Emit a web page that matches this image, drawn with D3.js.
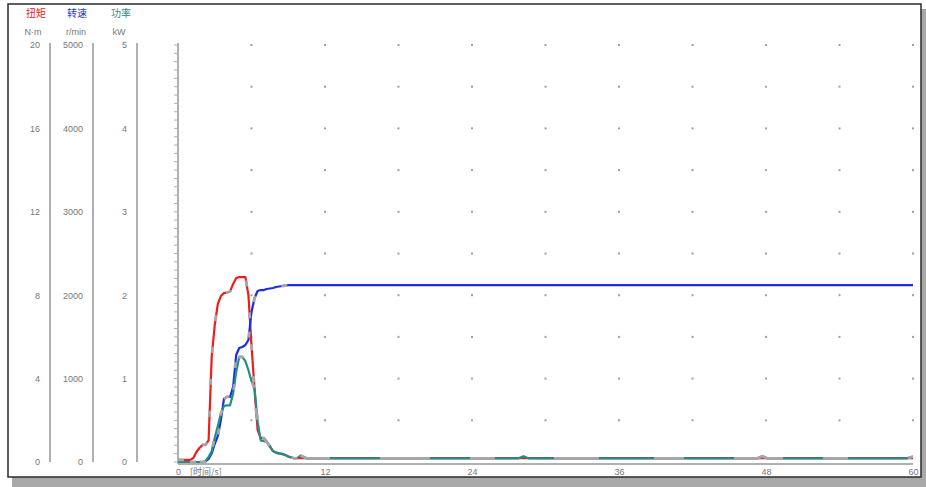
<!DOCTYPE html>
<html>
<head>
<meta charset="utf-8">
<script src="https://cdn.jsdelivr.net/npm/d3@7"></script>
<style>
  html, body { margin: 0; padding: 0; background: #fff; }
  svg { display: block; }
  text { font-family: "Liberation Sans", "DejaVu Sans", sans-serif; }
  .cjk { font-family: "Noto Sans CJK SC", sans-serif; }
</style>
</head>
<body>
<script>
// Sample times (s)
const times = [
  0, 0.25, 0.5, 0.75, 1, 1.25, 1.5, 1.75, 2, 2.25, 2.5, 2.75, 3, 3.25, 3.5, 3.75,
  4, 4.25, 4.5, 4.75, 5, 5.25, 5.5, 5.75, 6, 6.25, 6.5, 6.75, 7, 7.25, 7.5, 7.75,
  8, 8.25, 8.5, 8.75, 9, 9.25, 9.5, 9.75, 10, 10.5, 12, 18, 24, 27.8, 28.2, 28.6,
  36, 42, 47.3, 47.7, 48.1, 54, 59.5, 60
];
// Torque (N·m)
const torque = [
  0.10, 0.10, 0.10, 0.10, 0.10, 0.19, 0.48, 0.67, 0.82, 0.82, 1.05, 5.04, 6.57, 7.58, 7.96, 8.10,
  8.13, 8.18, 8.54, 8.82, 8.87, 8.87, 8.87, 8.00, 5.60, 3.45, 1.53, 1.15, 1.15, 0.97, 0.74, 0.53,
  0.46, 0.42, 0.38, 0.34, 0.26, 0.22, 0.18, 0.19, 0.20, 0.19, 0.19, 0.19, 0.19, 0.19, 0.19, 0.19,
  0.19, 0.19, 0.19, 0.19, 0.19, 0.19, 0.19, 0.19
];
// Speed (r/min)
const speed = [
  0, 0, 0, 0, 0, 0, 0, 0, 0, 6, 36, 104, 216, 312, 504, 755,
  780, 780, 900, 1283, 1367, 1379, 1403, 1463, 1799, 1966, 2050, 2062, 2062, 2074, 2080, 2086,
  2098, 2104, 2110, 2116, 2120, 2120, 2120, 2120, 2120, 2120, 2120, 2120, 2120, 2120, 2120, 2120,
  2120, 2120, 2120, 2120, 2120, 2120, 2120, 2120
];
// Power (kW)
const power = [
  0, 0, 0, 0, 0, 0, 0, 0, 0, 0.012, 0.06, 0.13, 0.29, 0.43, 0.58, 0.67,
  0.68, 0.68, 0.82, 1.08, 1.26, 1.26, 1.21, 1.10, 0.97, 0.88, 0.48, 0.26, 0.25, 0.24, 0.19, 0.13,
  0.11, 0.10, 0.10, 0.084, 0.066, 0.054, 0.044, 0.048, 0.078, 0.044, 0.044, 0.044, 0.044, 0.044, 0.07, 0.044,
  0.044, 0.044, 0.044, 0.07, 0.044, 0.044, 0.044, 0.065
];

const timeTicks = [0, 12, 24, 36, 48, 60];
const torqueTicks = [0, 4, 8, 12, 16, 20];
const speedTicks = [0, 1000, 2000, 3000, 4000, 5000];
const powerTicks = [0, 1, 2, 3, 4, 5];

const W = 926, H = 487;
const plot = { left: 178, right: 913, top: 45, bottom: 462 };

const svg = d3.select("body").append("svg").attr("width", W).attr("height", H);

// Outer frame with drop shadow
svg.append("rect").attr("x", 12).attr("y", 9).attr("width", 914).attr("height", 478).attr("fill", "#a8a8a8");
svg.append("rect").attr("x", 8).attr("y", 4).attr("width", 913).attr("height", 473)
  .attr("fill", "#fff").attr("stroke", "#2a2a2a").attr("stroke-width", 1.5);

const x = d3.scaleLinear().domain([0, 60]).range([plot.left, plot.right]);
const yT = d3.scaleLinear().domain([0, 20]).range([plot.bottom, plot.top]);
const yS = d3.scaleLinear().domain([0, 5000]).range([plot.bottom, plot.top]);
const yP = d3.scaleLinear().domain([0, 5]).range([plot.bottom, plot.top]);

// Dot grid
const gridX = d3.range(1, 11).map(i => i * 6);
const gridY = d3.range(0, 10).map(i => 20 - i * 2);
const grid = svg.append("g");
gridX.forEach(gx => gridY.forEach(gy => {
  grid.append("rect").attr("x", x(gx) - 1).attr("y", yT(gy) - 1)
    .attr("width", 2).attr("height", 2).attr("fill", "#a0a0a0");
}));

// Left value columns: header, unit, scale
const cols = [
  { name: "扭矩", unit: "N·m", color: "#e8201c", scale: yT, ticks: torqueTicks, labelX: 36, unitX: 33, lineX: 50 },
  { name: "转速", unit: "r/min", color: "#2233dd", scale: yS, ticks: speedTicks, labelX: 77, unitX: 76, lineX: 93 },
  { name: "功率", unit: "kW", color: "#3a8a88", scale: yP, ticks: powerTicks, labelX: 121, unitX: 119, lineX: 137 }
];
cols.forEach(c => {
  svg.append("text").attr("class", "cjk").attr("x", c.labelX).attr("y", 17)
    .attr("text-anchor", "middle").attr("font-size", 10).attr("fill", c.color).text(c.name);
  svg.append("text").attr("x", c.unitX).attr("y", 35)
    .attr("text-anchor", "middle").attr("font-size", 9).attr("fill", "#777").text(c.unit);
  svg.append("line").attr("x1", c.lineX).attr("x2", c.lineX).attr("y1", 43).attr("y2", plot.bottom)
    .attr("stroke", "#b0b0b0").attr("stroke-width", 2);
  const ax = d3.axisLeft(c.scale).tickValues(c.ticks).tickFormat(d3.format("d")).tickSize(0).tickPadding(0);
  const g = svg.append("g").attr("transform", `translate(${c.lineX - 10},0)`).call(ax);
  g.select(".domain").remove();
  g.selectAll("text").attr("font-size", 9).attr("fill", "#777")
    .attr("font-family", "Liberation Sans, sans-serif");
});

// Plot axes
svg.append("line").attr("x1", plot.left).attr("x2", plot.left).attr("y1", 43).attr("y2", plot.bottom + 2)
  .attr("stroke", "#b0b0b0").attr("stroke-width", 2);
const minor = d3.range(0, 51).map(i => i * 0.4);
svg.append("g").selectAll("line").data(minor).join("line")
  .attr("x1", plot.left - 4).attr("x2", plot.left).attr("y1", d => yT(d)).attr("y2", d => yT(d))
  .attr("stroke", "#b0b0b0").attr("stroke-width", 1);
svg.append("line").attr("x1", plot.left).attr("x2", plot.right).attr("y1", plot.bottom + 2).attr("y2", plot.bottom + 2)
  .attr("stroke", "#b0b0b0").attr("stroke-width", 2);

const xAxis = d3.axisBottom(x).tickValues(timeTicks).tickFormat(d3.format("d")).tickSize(0).tickPadding(0);
const gx = svg.append("g").attr("transform", `translate(0,${plot.bottom + 5})`).call(xAxis);
gx.select(".domain").remove();
gx.selectAll("text").attr("font-size", 9).attr("fill", "#777").attr("dy", "0.9em");
svg.append("text").attr("class", "cjk").attr("x", 190).attr("y", 475).attr("font-size", 9)
  .attr("fill", "#777").text("[时间/s]");

// Series
const series = [
  { vals: torque, scale: yT, color: "#ee1c1c" },
  { vals: speed, scale: yS, color: "#1a2ee8" },
  { vals: power, scale: yP, color: "#1f8f8a" }
];
const lineGen = s => d3.line().x(d => x(d[0])).y(d => s.scale(d[1]));
series.forEach(s => {
  const pts = times.map((t, i) => [t, s.vals[i]]);
  svg.append("path").datum(pts).attr("d", lineGen(s)).attr("fill", "none")
    .attr("stroke", s.color).attr("stroke-width", 2.2).attr("stroke-linejoin", "round");
});

// Grey marker segments laid along parts of each trace
const greyRuns = [
  { s: 0, from: 0, to: 8, dash: "6,26", offset: 0 },
  { s: 1, from: 0, to: 9, dash: "6,30", offset: 14 },
  { s: 2, from: 0, to: 10, dash: "6,26", offset: 20 },
  { s: 2, from: 10, to: 60, dash: "30,50,50,40,25,60,45,55", offset: 0 }
];
greyRuns.forEach(r => {
  const s = series[r.s];
  const pts = times.map((t, i) => [t, s.vals[i]]).filter(d => d[0] >= r.from && d[0] <= r.to);
  svg.append("path").datum(pts).attr("d", lineGen(s)).attr("fill", "none")
    .attr("stroke", "#a6a6a6").attr("stroke-width", 2.8)
    .attr("stroke-dasharray", r.dash).attr("stroke-dashoffset", r.offset);
});
</script>
</body>
</html>
